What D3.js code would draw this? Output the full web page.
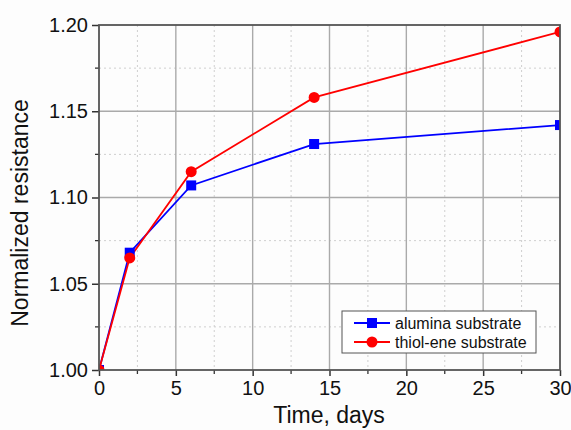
<!DOCTYPE html>
<html>
<head>
<meta charset="utf-8">
<script src="https://cdn.jsdelivr.net/npm/d3@7"></script>
<style>
  body { margin: 0; background: #fdfdfd; }
  svg { display: block; font-family: "Liberation Sans", Arial, sans-serif; }
</style>
</head>
<body>
<div id="chart"></div>
<script>
// data
var days = [0, 2, 6, 14, 30];
var alumina = [1.000, 1.068, 1.107, 1.131, 1.142];
var thiolEne = [1.000, 1.065, 1.115, 1.158, 1.196];
var xTicks = [0, 5, 10, 15, 20, 25, 30];
var yTicks = [1.00, 1.05, 1.10, 1.15, 1.20];
var seriesNames = ['alumina substrate', 'thiol-ene substrate'];

var width = 571, height = 430;
var pLeft = 99, pRight = 560, pTop = 25, pBottom = 370;

var svg = d3.select('#chart').append('svg')
  .attr('width', width)
  .attr('height', height);

svg.append('defs').append('clipPath').attr('id', 'plotclip')
  .append('rect')
  .attr('x', pLeft).attr('y', pTop)
  .attr('width', pRight - pLeft).attr('height', pBottom - pTop);

var x = d3.scaleLinear().domain([0, 30]).range([pLeft, pRight]);
var y = d3.scaleLinear().domain([1.0, 1.2]).range([pBottom, pTop]);

// grid: minor dotted, major solid
var minorX = d3.range(2.5, 30, 5);
var minorY = [1.025, 1.075, 1.125, 1.175];
var grid = svg.append('g');
grid.selectAll('.mx').data(minorX).enter().append('line')
  .attr('x1', d => x(d)).attr('x2', d => x(d))
  .attr('y1', pTop).attr('y2', pBottom)
  .attr('stroke', '#cfcfcf').attr('stroke-dasharray', '2,3');
grid.selectAll('.my').data(minorY).enter().append('line')
  .attr('y1', d => y(d)).attr('y2', d => y(d))
  .attr('x1', pLeft).attr('x2', pRight)
  .attr('stroke', '#cfcfcf').attr('stroke-dasharray', '2,3');
grid.selectAll('.gx').data(xTicks.slice(1, -1)).enter().append('line')
  .attr('x1', d => x(d)).attr('x2', d => x(d))
  .attr('y1', pTop).attr('y2', pBottom)
  .attr('stroke', '#aaa').attr('stroke-width', 1.4);
grid.selectAll('.gy').data(yTicks.slice(1, -1)).enter().append('line')
  .attr('y1', d => y(d)).attr('y2', d => y(d))
  .attr('x1', pLeft).attr('x2', pRight)
  .attr('stroke', '#aaa').attr('stroke-width', 1.4);

// axes
var xAxis = d3.axisBottom(x).tickValues(xTicks).tickSize(6).tickPadding(5);
var yAxis = d3.axisLeft(y).tickValues(yTicks).tickSize(7).tickPadding(4)
  .tickFormat(d3.format('.2f'));

var gx = svg.append('g').attr('transform', 'translate(0,' + pBottom + ')').call(xAxis);
var gy = svg.append('g').attr('transform', 'translate(' + pLeft + ',0)').call(yAxis);

[gx, gy].forEach(function (g) {
  g.select('.domain').remove();
  g.selectAll('line').attr('stroke', '#333').attr('stroke-width', 1.5);
  g.selectAll('text').attr('fill', '#111').style('font-size', '20px')
    .style('font-family', '"Liberation Sans", Arial, sans-serif');
});

// minor ticks
svg.append('g').selectAll('line').data(minorX).enter().append('line')
  .attr('x1', d => x(d)).attr('x2', d => x(d))
  .attr('y1', pBottom).attr('y2', pBottom + 4)
  .attr('stroke', '#333').attr('stroke-width', 1.3);
svg.append('g').selectAll('line').data(minorY).enter().append('line')
  .attr('y1', d => y(d)).attr('y2', d => y(d))
  .attr('x1', pLeft).attr('x2', pLeft - 4)
  .attr('stroke', '#333').attr('stroke-width', 1.3);

// axis titles
svg.append('text')
  .attr('x', 329).attr('y', 423)
  .attr('text-anchor', 'middle')
  .style('font-size', '23px').attr('fill', '#111')
  .text('Time, days');
svg.append('text')
  .attr('transform', 'translate(28,213) rotate(-90)')
  .attr('text-anchor', 'middle')
  .style('font-size', '23px').attr('fill', '#111')
  .text('Normalized resistance');

// lines + markers
var line = d3.line().x((d, i) => x(days[i])).y(d => y(d));

var plot = svg.append('g').attr('clip-path', 'url(#plotclip)');
plot.append('path').datum(alumina)
  .attr('d', line).attr('fill', 'none')
  .attr('stroke', '#0000ff').attr('stroke-width', 1.8);
plot.append('path').datum(thiolEne)
  .attr('d', line).attr('fill', 'none')
  .attr('stroke', '#ff0000').attr('stroke-width', 1.8);

plot.selectAll('.sq').data(alumina).enter().append('rect')
  .attr('x', (d, i) => x(days[i]) - 5)
  .attr('y', d => y(d) - 5)
  .attr('width', 10).attr('height', 10)
  .attr('fill', '#0000ff');
plot.selectAll('.ci').data(thiolEne).enter().append('circle')
  .attr('cx', (d, i) => x(days[i]))
  .attr('cy', d => y(d))
  .attr('r', 5.5)
  .attr('fill', '#ff0000');

// frame
svg.append('rect')
  .attr('x', pLeft).attr('y', pTop)
  .attr('width', pRight - pLeft).attr('height', pBottom - pTop)
  .attr('fill', 'none').attr('stroke', '#555').attr('stroke-width', 1.8);

// legend
var lg = svg.append('g').attr('transform', 'translate(342,311)');
lg.append('rect')
  .attr('width', 194).attr('height', 42)
  .attr('fill', '#fff').attr('stroke', '#555').attr('stroke-width', 1);
var colors = ['#0000ff', '#ff0000'];
seriesNames.forEach(function (name, i) {
  var cy = 12 + i * 19;
  lg.append('line')
    .attr('x1', 12).attr('x2', 48).attr('y1', cy).attr('y2', cy)
    .attr('stroke', colors[i]).attr('stroke-width', 1.8);
  if (i == 0) {
    lg.append('rect').attr('x', 25).attr('y', cy - 5)
      .attr('width', 10).attr('height', 10).attr('fill', colors[i]);
  } else {
    lg.append('circle').attr('cx', 30).attr('cy', cy)
      .attr('r', 5.5).attr('fill', colors[i]);
  }
  lg.append('text')
    .attr('x', 53).attr('y', cy + 6)
    .style('font-size', '16px').attr('fill', '#111')
    .text(name);
});
</script>
</body>
</html>
